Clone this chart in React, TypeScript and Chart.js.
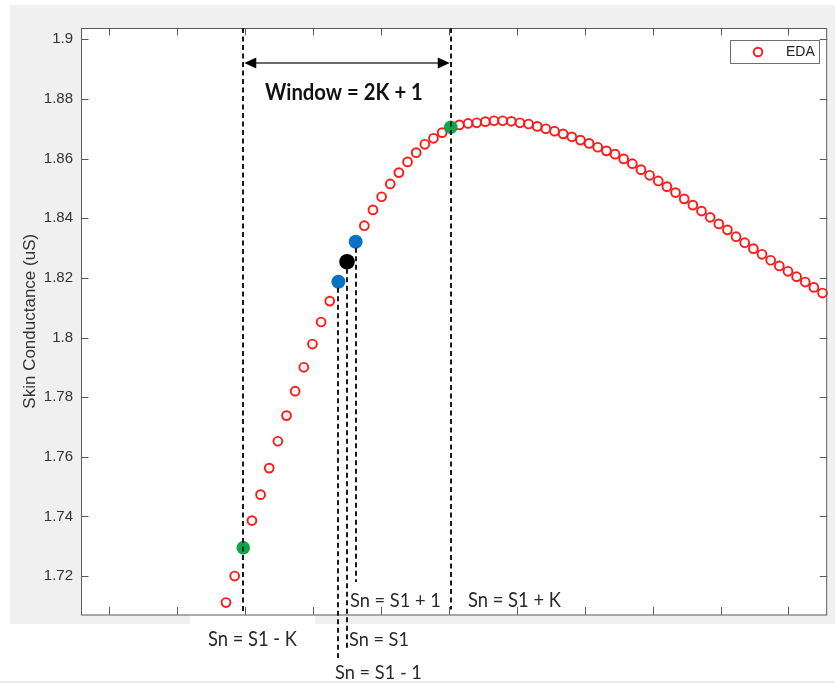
import React, { useEffect, useRef } from "react";
import { Chart, registerables } from "chart.js";

Chart.register(...registerables);

// ---- data ----
const sampleIndex: number[] = [
  0, 1, 2, 3, 4, 5, 6, 7, 8, 9, 10, 11, 12, 13, 14, 15, 16, 17, 18, 19,
  20, 21, 22, 23, 24, 25, 26, 27, 28, 29, 30, 31, 32, 33, 34, 35, 36, 37, 38, 39,
  40, 41, 42, 43, 44, 45, 46, 47, 48, 49, 50, 51, 52, 53, 54, 55, 56, 57, 58, 59,
  60, 61, 62, 63, 64, 65, 66, 67, 68, 69,
];
const edaValues: number[] = [
  1.7111, 1.72, 1.7295, 1.7386, 1.7473, 1.7562, 1.7652, 1.7738, 1.782, 1.79,
  1.7978, 1.8052, 1.8122, 1.8187, 1.8254, 1.8321, 1.8375, 1.8428, 1.8472, 1.8515,
  1.8553, 1.8589, 1.862, 1.8648, 1.8668, 1.8687, 1.8705, 1.8713, 1.8718, 1.872,
  1.8724, 1.8727, 1.8727, 1.8725, 1.872, 1.8716, 1.8708, 1.87, 1.8692, 1.8683,
  1.8673, 1.8662, 1.8651, 1.8638, 1.8626, 1.8615, 1.8599, 1.8583, 1.8563, 1.8544,
  1.8525, 1.8506, 1.8486, 1.8465, 1.8444, 1.8424, 1.8403, 1.8381, 1.8361, 1.8338,
  1.8318, 1.8298, 1.8279, 1.8259, 1.824, 1.8222, 1.8204, 1.8186, 1.8168, 1.8149,
];
const yTickValues: number[] = [1.72, 1.74, 1.76, 1.78, 1.8, 1.82, 1.84, 1.86, 1.88, 1.9];
const xTickValues: number[] = [-13.54, -5.68, 2.18, 10.04, 17.9, 25.76, 33.62, 41.48, 49.34, 57.2, 65.06];
const windowEdgeIdx: number[] = [2, 26]; // S1 - K, S1 + K (green)
const neighbourIdx: number[] = [13, 15]; // S1 - 1, S1 + 1 (blue)
const centreIdx: number[] = [14]; // S1 (black)

const X_MIN = -16.77;
const X_MAX = 69.54;
const Y_MIN = 1.7071;
const Y_MAX = 1.9038;

const SERIES_LABEL = "EDA";
const RED = "#ff1a1a";
const GREEN = "#0aa64c";
const BLUE = "#0a72c4";

const CALLOUT_FONT = "Lato, 'Open Sans', sans-serif";

const pts = (idx: number[]) => idx.map((i) => ({ x: sampleIndex[i], y: edaValues[i] }));

function fitText(ctx: CanvasRenderingContext2D, text: string, left: number, mid: number, width: number, weight: string) {
  ctx.save();
  ctx.font = `${weight} 20px ${CALLOUT_FONT}`;
  const w = ctx.measureText(text).width;
  const size = (20 * width) / w;
  ctx.font = `${weight} ${size}px ${CALLOUT_FONT}`;
  ctx.textAlign = "left";
  ctx.textBaseline = "middle";
  ctx.translate(left, mid);
  ctx.scale(1, 1.1);
  ctx.fillText(text, 0, 0);
  ctx.restore();
}

const decorPlugin = {
  id: "decor",
  beforeDraw(chart: any) {
    const ctx: CanvasRenderingContext2D = chart.ctx;
    const a = chart.chartArea;
    ctx.save();
    ctx.fillStyle = "#ffffff";
    ctx.fillRect(0, 0, chart.width, chart.height);
    ctx.fillStyle = "#f0f0f0";
    ctx.fillRect(10, 5, chart.width - 10, 619);
    ctx.fillStyle = "#ffffff";
    ctx.fillRect(a.left, a.top, a.right - a.left, a.bottom - a.top);
    ctx.fillRect(190, a.bottom, 125, 625 - a.bottom);
    ctx.fillStyle = "#ececec";
    ctx.fillRect(0, chart.height - 2, chart.width, 2);
    ctx.restore();
  },
  afterDatasetsDraw(chart: any) {
    const ctx: CanvasRenderingContext2D = chart.ctx;
    const a = chart.chartArea;
    const xs = chart.scales.x;
    const ys = chart.scales.y;
    ctx.save();

    // axes box
    ctx.strokeStyle = "#5a5a5a";
    ctx.lineWidth = 1;
    ctx.strokeRect(a.left + 0.5, a.top + 0.5, a.right - a.left - 1, a.bottom - a.top);

    // inward ticks
    const TL = 7.5;
    ctx.beginPath();
    for (const v of yTickValues) {
      const py = Math.round(ys.getPixelForValue(v)) + 0.5;
      ctx.moveTo(a.left, py);
      ctx.lineTo(a.left + TL, py);
      ctx.moveTo(a.right, py);
      ctx.lineTo(a.right - TL, py);
    }
    for (const v of xTickValues) {
      const px = Math.round(xs.getPixelForValue(v)) + 0.5;
      ctx.moveTo(px, a.top);
      ctx.lineTo(px, a.top + TL);
      ctx.moveTo(px, a.bottom);
      ctx.lineTo(px, a.bottom - TL);
    }
    ctx.stroke();

    // dashed marker lines
    ctx.strokeStyle = "#1a1a1a";
    ctx.lineWidth = 2;
    ctx.setLineDash([5, 3.5]);
    const vline = (i: number, y0: number, y1: number) => {
      const px = Math.round(xs.getPixelForValue(sampleIndex[i]));
      ctx.beginPath();
      ctx.moveTo(px, y0);
      ctx.lineTo(px, y1);
      ctx.stroke();
    };
    vline(windowEdgeIdx[0], a.top, a.bottom - 3);
    vline(windowEdgeIdx[1], a.top, a.bottom - 5);
    vline(neighbourIdx[0], ys.getPixelForValue(edaValues[neighbourIdx[0]]) + 6, 658);
    vline(centreIdx[0], ys.getPixelForValue(edaValues[centreIdx[0]]) + 7, 648);
    vline(neighbourIdx[1], ys.getPixelForValue(edaValues[neighbourIdx[1]]) + 6, 582);
    ctx.setLineDash([]);

    // window arrow
    const ax0 = xs.getPixelForValue(sampleIndex[windowEdgeIdx[0]]);
    const ax1 = xs.getPixelForValue(sampleIndex[windowEdgeIdx[1]]);
    const ay = 63;
    ctx.strokeStyle = "#3a3a3a";
    ctx.lineWidth = 1.5;
    ctx.beginPath();
    ctx.moveTo(ax0 + 8, ay);
    ctx.lineTo(ax1 - 8, ay);
    ctx.stroke();
    ctx.fillStyle = "#000";
    ctx.beginPath();
    ctx.moveTo(ax0 + 1, ay);
    ctx.lineTo(ax0 + 13, ay - 5.5);
    ctx.lineTo(ax0 + 13, ay + 5.5);
    ctx.closePath();
    ctx.fill();
    ctx.beginPath();
    ctx.moveTo(ax1 - 1, ay);
    ctx.lineTo(ax1 - 13, ay - 5.5);
    ctx.lineTo(ax1 - 13, ay + 5.5);
    ctx.closePath();
    ctx.fill();

    // callout texts
    ctx.fillStyle = "#111";
    fitText(ctx, "Window = 2K + 1", 265, 93, 158, "bold");
    ctx.fillStyle = "#2a2a2a";
    fitText(ctx, "Sn = S1 - K", 208, 639, 89, "normal");
    fitText(ctx, "Sn = S1 + 1", 350, 601, 91, "normal");
    fitText(ctx, "Sn = S1 + K", 468, 600, 93, "normal");
    fitText(ctx, "Sn = S1", 349, 640, 60, "normal");
    fitText(ctx, "Sn = S1 - 1", 335, 673, 87, "normal");

    // legend box (inside axes, top right)
    const lx = 730, ly = 40.5, lw = 89, lh = 23;
    ctx.fillStyle = "#ffffff";
    ctx.fillRect(lx, ly, lw, lh);
    ctx.strokeStyle = "#6e6e6e";
    ctx.lineWidth = 1;
    ctx.strokeRect(lx + 0.5, ly, lw, lh);
    ctx.strokeStyle = RED;
    ctx.lineWidth = 1.9;
    ctx.beginPath();
    ctx.arc(758, ly + lh / 2, 4.3, 0, Math.PI * 2);
    ctx.stroke();
    ctx.fillStyle = "#222";
    ctx.font = "14px 'Liberation Sans', Arial, sans-serif";
    ctx.textAlign = "left";
    ctx.textBaseline = "middle";
    ctx.fillText(SERIES_LABEL, 786, ly + lh / 2 + 0.5);

    ctx.restore();
  },
};

export default function App() {
  const ref = useRef<HTMLCanvasElement | null>(null);
  useEffect(() => {
    if (!ref.current) return;
    const chart = new Chart(ref.current, {
      type: "scatter",
      data: {
        datasets: [
          {
            label: SERIES_LABEL,
            data: pts(sampleIndex),
            order: 10,
            pointStyle: "circle",
            pointRadius: 4.4,
            pointBorderWidth: 1.9,
            pointBorderColor: RED,
            pointBackgroundColor: "rgba(0,0,0,0)",
            showLine: false,
            clip: false as any,
          },
          {
            label: "edges",
            data: pts(windowEdgeIdx),
            order: 1,
            pointRadius: 6.8,
            pointBorderWidth: 0,
            pointBackgroundColor: GREEN,
            pointBorderColor: GREEN,
            clip: false as any,
          },
          {
            label: "neighbours",
            data: pts(neighbourIdx),
            order: 1,
            pointRadius: 7,
            pointBorderWidth: 0,
            pointBackgroundColor: BLUE,
            pointBorderColor: BLUE,
            clip: false as any,
          },
          {
            label: "centre",
            data: pts(centreIdx),
            order: 0,
            pointRadius: 7.8,
            pointBorderWidth: 0,
            pointBackgroundColor: "#000",
            pointBorderColor: "#000",
            clip: false as any,
          },
        ],
      },
      options: {
        animation: false,
        responsive: false,
        devicePixelRatio: 1,
        events: [],
        layout: { padding: { left: 0, top: 28, right: 4, bottom: 68.5 } },
        plugins: {
          legend: { display: false },
          tooltip: { enabled: false },
        },
        scales: {
          x: {
            type: "linear",
            display: false,
            min: X_MIN,
            max: X_MAX,
          },
          y: {
            type: "linear",
            position: "left",
            min: Y_MIN,
            max: Y_MAX,
            grid: { display: false, drawTicks: false },
            border: { display: false },
            afterBuildTicks: (scale: any) => {
              scale.ticks = yTickValues.map((v) => ({ value: v }));
            },
            afterFit: (scale: any) => {
              scale.width = 81;
            },
            ticks: {
              padding: 8,
              color: "#333",
              font: { family: "'Liberation Sans', Arial, sans-serif", size: 15 },
              callback: (v: any) => String(+Number(v).toFixed(2)),
            },
            title: {
              display: true,
              text: "Skin Conductance (uS)",
              color: "#333",
              font: { family: "'Liberation Sans', Arial, sans-serif", size: 17 },
              padding: { top: 20, bottom: 0 },
            },
          },
        },
      },
      plugins: [decorPlugin],
    });
    return () => chart.destroy();
  }, []);
  return (
    <div style={{ position: "fixed", left: 0, top: 0, width: 835, height: 683 }}>
      <canvas ref={ref} width={835} height={683} style={{ display: "block", width: 835, height: 683 }} />
    </div>
  );
}
